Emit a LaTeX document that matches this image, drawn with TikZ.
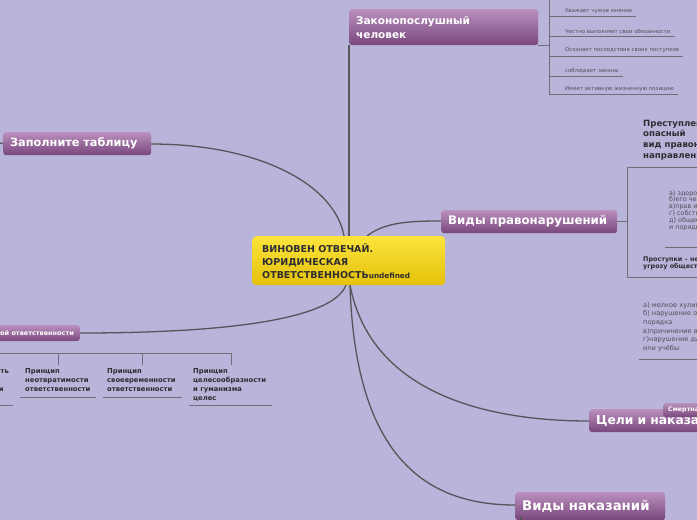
\documentclass[tikz,border=0pt]{standalone}
\usepackage{fontspec}
\setmainfont{DejaVu Sans}
\definecolor{bg}{RGB}{184,180,218}
\definecolor{ptop}{RGB}{186,144,190}
\definecolor{pbot}{RGB}{120,70,124}
\definecolor{ytop}{RGB}{252,228,60}
\definecolor{ybot}{RGB}{228,192,10}
\definecolor{conn}{RGB}{85,85,90}
\definecolor{thin}{RGB}{110,110,118}
\definecolor{txt}{RGB}{45,45,50}
\definecolor{tiny}{RGB}{80,80,88}
\tikzset{
  x=1pt, y=-1pt,
  pnode/.style={rectangle, rounded corners=3pt, top color=ptop, bottom color=pbot, text=white, inner xsep=7pt, inner ysep=0pt, anchor=north west, align=left},
  ynode/.style={rectangle, rounded corners=4pt, top color=ytop, bottom color=ybot, text=txt, inner xsep=10pt, inner ysep=0pt, anchor=north west, align=left, font=\fontsize{9.5}{13}\selectfont\bfseries},
  link/.style={draw=conn, line width=1.3pt},
  sub/.style={draw=thin, line width=0.7pt},
  leaf/.style={inner sep=0pt, anchor=west, text=tiny, font=\fontsize{5.4}{6}\selectfont},
  pleaf/.style={inner sep=0pt, anchor=north west, align=left, text=txt, font=\fontsize{6.8}{9}\selectfont\bfseries},
}
\begin{document}
\begin{tikzpicture}
\useasboundingbox (0,0) rectangle (697,520);
\clip (0,0) rectangle (697,520);
\fill[bg] (0,0) rectangle (697,520);

% connectors from the centre
\draw[link] (151,144) .. controls (260,144) and (335,185) .. (344,236);
\draw[draw=conn, line width=1.8pt] (349,45) -- (349,236);
\draw[link] (367,236) .. controls (385,222) and (410,221) .. (441,221);
\draw[link] (80,333) .. controls (250,333) and (335,315) .. (346,285);
\draw[link] (350,285) .. controls (370,390) and (480,421) .. (589,421);
\draw[link] (350,285) .. controls (355,450) and (420,505) .. (515,505);

% nodes
\node[ynode, minimum width=193, minimum height=49, text width=173] (c) at (252,236)
  {ВИНОВЕН ОТВЕЧАЙ.\\ЮРИДИЧЕСКАЯ\\ОТВЕТСТВЕННОСТЬ{\fontsize{7.3}{9}\selectfont undefined}};
\node[pnode, minimum width=189, minimum height=36, text width=175, font=\fontsize{10.5}{14}\selectfont\bfseries] (zak) at (349,9) {Законопослушный\\человек};
\node[pnode, minimum width=148, minimum height=23, text width=134, font=\fontsize{11.3}{13}\selectfont\bfseries] (zap) at (3,132) {Заполните таблицу};
\node[pnode, minimum width=176, minimum height=23, text width=162, font=\fontsize{11.8}{13}\selectfont\bfseries] (vp) at (441,210) {Виды правонарушений};
\node[pnode, minimum width=150, minimum height=28, text width=136, font=\fontsize{13.3}{15}\selectfont\bfseries] (vn) at (515,492) {Виды наказаний};
\node[pnode, minimum width=160, minimum height=23, text width=146, font=\fontsize{12.3}{14}\selectfont\bfseries] (cel) at (589,409) {Цели и наказания};
\node[pnode, minimum width=80, minimum height=14, text width=70, inner xsep=5pt, font=\fontsize{6.3}{8}\selectfont\bfseries] (sm) at (663,403) {Смертная казнь};
\node[pnode, minimum height=16, anchor=north east, inner xsep=6pt, font=\fontsize{6.5}{8}\selectfont\bfseries] (pr) at (80,325) {Принципы юридической ответственности};

% stubs
\draw[link] (zap.west) -- (0,143);
\draw[link] (521,517) -- (521,520);

% Законопослушный children
\draw[sub] (538,45) -- (549,45);
\draw[sub] (549,0) -- (549,94);
\draw[sub] (549,16) -- (636,16);
\draw[sub] (549,36) -- (675,36);
\draw[sub] (549,56) -- (683,56);
\draw[sub] (549,76) -- (623,76);
\draw[sub] (549,94) -- (678,94);
\node[leaf] (z1) at (565,11) {Уважает чужое мнение};
\node[leaf] (z2) at (565,31) {Честно выполняет свои обязанности};
\node[leaf] (z3) at (565,50) {Осознает последствия своих поступков};
\node[leaf] (z4) at (565,71) {соблюдает законы};
\node[leaf] (z5) at (565,89) {Имеет активную жизненную позицию};

% Виды правонарушений children
\draw[sub] (617,221) -- (627,221);
\draw[sub] (627,167) -- (627,277);
\draw[sub] (627,167) -- (697,167);
\draw[sub] (627,277) -- (697,277);
\draw[sub] (665,247) -- (697,247);
\draw[sub] (639,359) -- (697,359);
\node[inner sep=0pt, anchor=north west, align=left, text=txt, font=\fontsize{8.6}{10.8}\selectfont\bfseries] (prs) at (643,119)
  {Преступление – общественно\\опасный\\вид правонарушения,\\направленный против};
\node[inner sep=0pt, anchor=north west, align=left, text=tiny, font=\fontsize{6.4}{6.9}\selectfont] (obj) at (669,190)
  {а) здоровья человека\\б)его чести\\в)прав и свобод\\г) собственности\\д) общественного\\и порядка};
\node[inner sep=0pt, anchor=north west, align=left, text=txt, font=\fontsize{6.4}{7}\selectfont\bfseries] (pst) at (643,257)
  {Проступки – не представляют\\угрозу общества};
\node[inner sep=0pt, anchor=north west, align=left, text=tiny, font=\fontsize{6.6}{8.6}\selectfont] (prl) at (643,302)
  {а) мелкое хулиганство\\б) нарушение общественного\\порядка\\в)причинение вреда\\г)нарушение дисциплины\\или учёбы};

% Принципы children
\draw[sub] (0,353) -- (231,353);
\draw[sub] (58,353) -- (58,365);
\draw[sub] (142,353) -- (142,365);
\draw[sub] (231,353) -- (231,365);
\draw[sub] (-60,405) -- (13,405);
\draw[sub] (20,397) -- (96,397);
\draw[sub] (103,397) -- (182,397);
\draw[sub] (189,405) -- (272,405);
\node[pleaf, anchor=north east] (p1) at (9,368) {Справедливость\\и\\соразмерности\\и};
\node[pleaf] (p2) at (25,368) {Принцип\\неотвратимости\\ответственности};
\node[pleaf] (p3) at (107,368) {Принцип\\своевременности\\ответственности};
\node[pleaf] (p4) at (193,368) {Принцип\\целесообразности\\и гуманизма\\целес};
\end{tikzpicture}
\end{document}
